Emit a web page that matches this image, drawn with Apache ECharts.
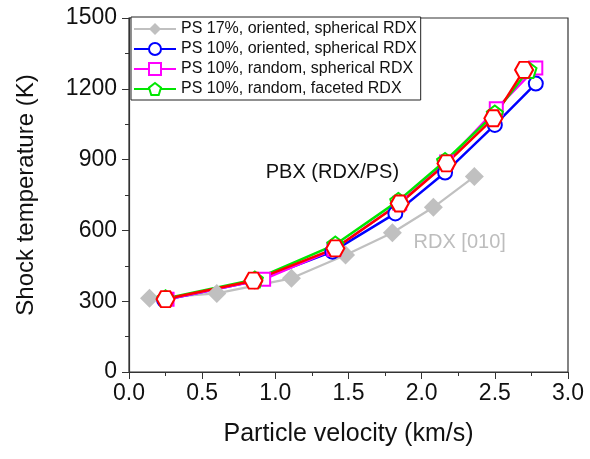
<!DOCTYPE html>
<html><head><meta charset="utf-8">
<script src="https://cdn.jsdelivr.net/npm/echarts@6/dist/echarts.min.js"></script>
<style>html,body{margin:0;padding:0;background:#fff}#c{width:590px;height:459px}</style>
</head><body><div id="c"></div>
<script>
const grayX = [0.14, 0.60, 1.11, 1.48, 1.80, 2.08, 2.36];
const grayY = [312, 333, 397, 496, 590, 698, 828];
const blueX = [0.24, 0.86, 1.39, 1.82, 2.16, 2.50, 2.78];
const blueY = [305, 385, 510, 672, 845, 1047, 1222];
const magX = [0.26, 0.92, 1.40, 1.85, 2.17, 2.51, 2.78];
const magY = [308, 393, 520, 715, 890, 1115, 1288];
const greenX = [0.25, 0.86, 1.41, 1.84, 2.16, 2.50, 2.73];
const greenY = [312, 392, 540, 725, 894, 1095, 1280];
const redX = [0.25, 0.85, 1.41, 1.85, 2.17, 2.49, 2.70];
const redY = [309, 387, 524, 714, 884, 1075, 1280];
const names = ['PS 17%, oriented, spherical RDX','PS 10%, oriented, spherical RDX','PS 10%, random, spherical RDX','PS 10%, random, faceted RDX'];
const xTicks = [0.0,0.5,1.0,1.5,2.0,2.5,3.0];
const yTicks = [0,300,600,900,1200,1500];
const notes = [{text:'PBX (RDX/PS)', x:1.39, y:847, color:'#111'},{text:'RDX [010]', x:2.26, y:547, color:'#bdbdbd'}];

const zip = (a,b)=>a.map((v,i)=>[v,b[i]]);
const hex = 'path://M-1,0 L-0.5,-0.866 L0.5,-0.866 L1,0 L0.5,0.866 L-0.5,0.866 Z';
const pent = 'path://M0,-1 L0.951,-0.309 L0.588,0.809 L-0.588,0.809 L-0.951,-0.309 Z';
const FONT = '"Liberation Sans", Arial, sans-serif';
const chart = echarts.init(document.getElementById('c'), null, {renderer:'canvas'});
function ser(name, x, y, color, symbol, size, fill, lw){
  return {name, type:'line', data:zip(x,y), symbol, symbolSize:size,
    lineStyle:{color, width:lw}, itemStyle:{color:fill, borderColor:color, borderWidth:fill===color?0:2},
    color, z:2, animation:false};
}
const axisLine = {show:true, lineStyle:{color:'#333', width:1.2}};
chart.setOption({
  animation:false,
  textStyle:{fontFamily:FONT},
  grid:{left:129, right:22, top:18, bottom:87, show:true, borderColor:'#333', borderWidth:1.2},
  legend:{data:names, orient:'vertical', left:131, top:17, backgroundColor:'#fff',
    borderColor:'#222', borderWidth:1, borderRadius:0, padding:[4,4,3,2], itemGap:4,
    itemWidth:42, itemHeight:15, textStyle:{fontSize:16, color:'#111', fontFamily:FONT}},
  xAxis:{type:'value', min:0, max:3, interval:0.5,
    axisLine, axisTick:{show:true, length:7, lineStyle:{color:'#333'}},
    minorTick:{show:true, splitNumber:2, length:4, lineStyle:{color:'#333'}},
    splitLine:{show:false},
    axisLabel:{fontSize:23, color:'#111', margin:10, formatter:v=>{const t=xTicks.find(k=>Math.abs(k-v)<1e-6);return t===undefined?'':t.toFixed(1);}},
    name:'Particle velocity (km/s)', nameLocation:'middle', nameGap:50,
    nameTextStyle:{fontSize:25, color:'#111', fontFamily:FONT}},
  yAxis:{type:'value', min:0, max:1500, interval:300,
    axisLine, axisTick:{show:true, length:7, lineStyle:{color:'#333'}},
    minorTick:{show:true, splitNumber:2, length:4, lineStyle:{color:'#333'}},
    splitLine:{show:false},
    axisLabel:{fontSize:23, color:'#111', margin:12, formatter:v=>yTicks.includes(v)?String(v):''},
    name:'Shock temperature (K)', nameLocation:'middle', nameGap:91,
    nameTextStyle:{fontSize:24, color:'#111', fontFamily:FONT}},
  series:[
    ser(names[0], grayX, grayY, '#c0c0c0', 'diamond', 19, '#c0c0c0', 2.2),
    ser(names[1], blueX, blueY, '#0000ff', 'circle', 14, '#fff', 2.5),
    ser(names[2], magX, magY, '#ff00ff', 'rect', 13, '#fff', 2.5),
    ser(names[3], greenX, greenY, '#00e600', pent, 16, '#fff', 2.5),
    ser('PBX', redX, redY, '#ff0000', hex, [18,16], '#fff', 2.5)
  ]
});
const g = notes.map(n=>{const p=chart.convertToPixel({gridIndex:0},[n.x,n.y]);
  return {type:'text', x:p[0], y:p[1], z:10, style:{text:n.text, fill:n.color, font:'20px '+FONT, align:'center', verticalAlign:'middle'}};});
chart.setOption({graphic:g});
</script></body></html>
